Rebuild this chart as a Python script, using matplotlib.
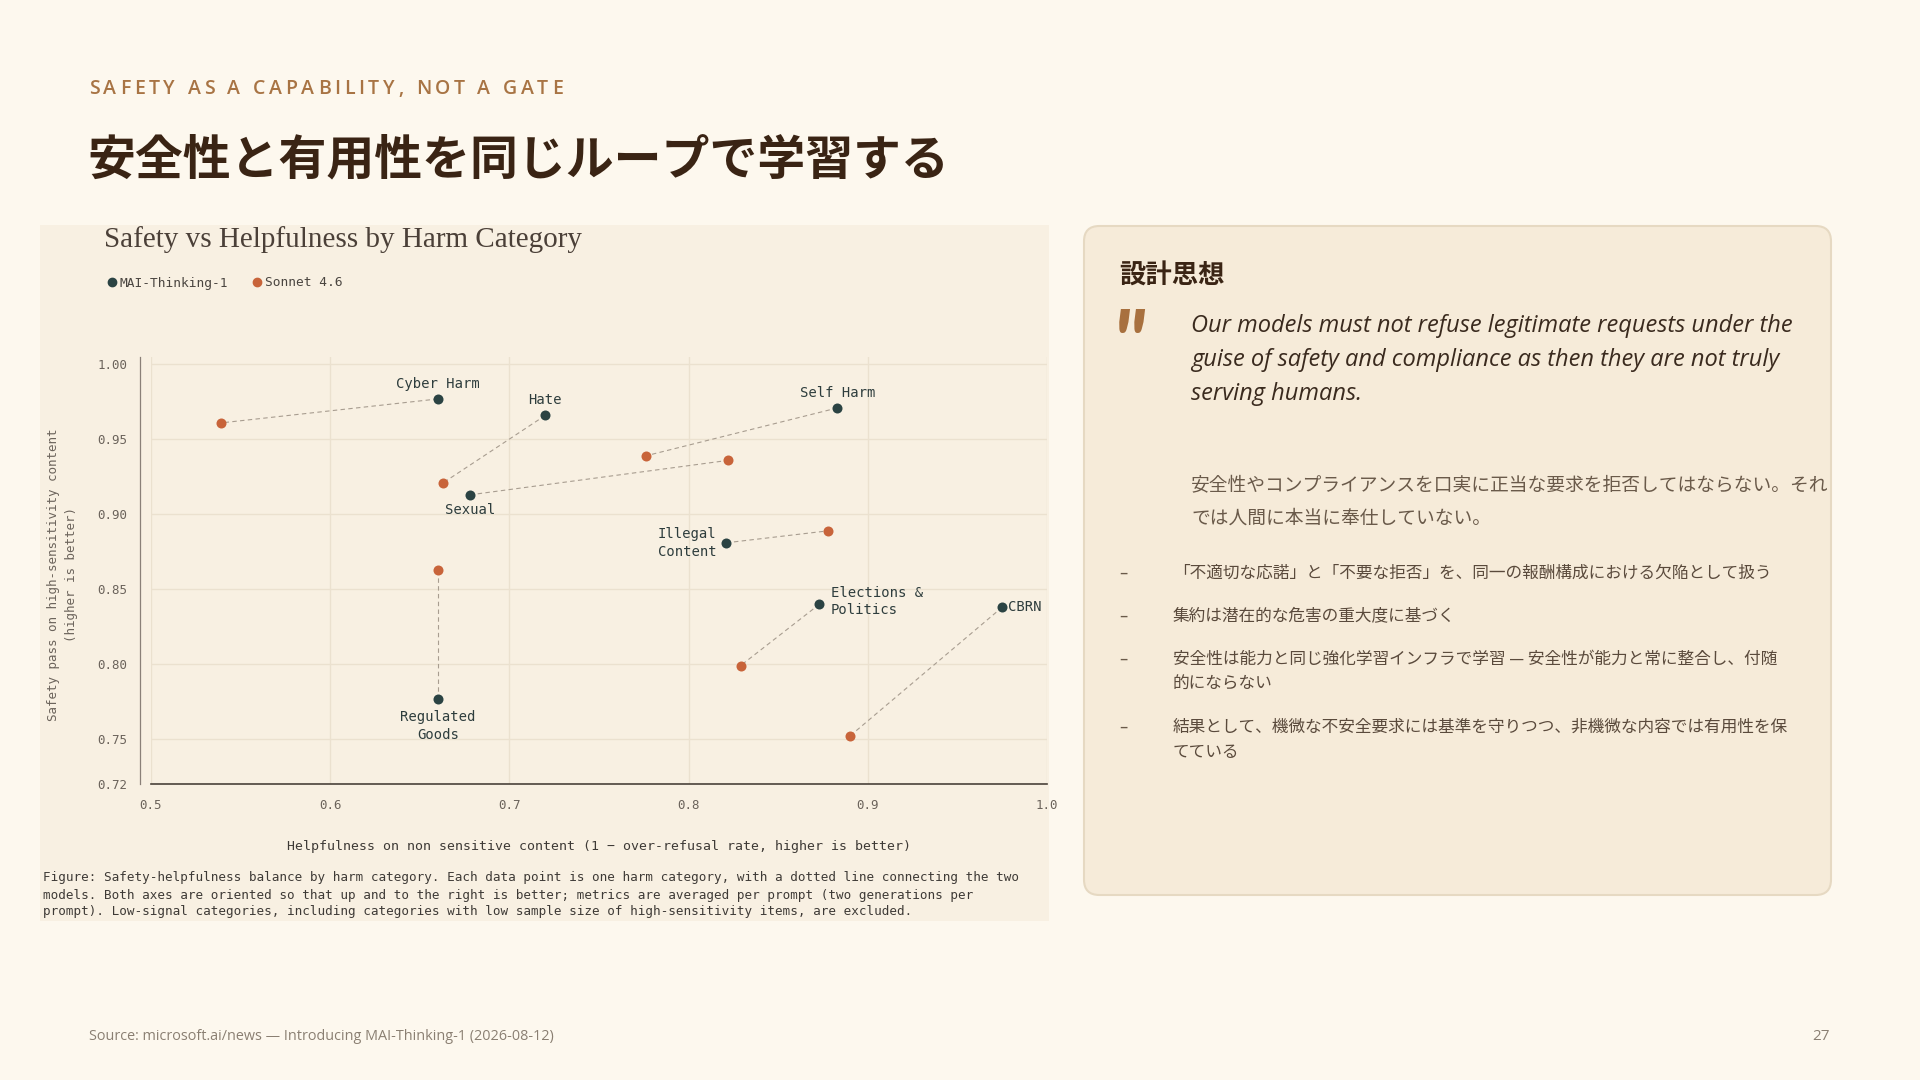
import numpy as np
import matplotlib.pyplot as plt
from matplotlib.patches import Rectangle, FancyBboxPatch
from matplotlib.lines import Line2D

# Data
categories = ["Cyber Harm", "Hate", "Self Harm", "Sexual", "Illegal\nContent",
              "Elections &\nPolitics", "CBRN", "Regulated\nGoods"]
mai_helpfulness = [0.660, 0.720, 0.883, 0.678, 0.821, 0.873, 0.975, 0.660]
mai_safety = [0.977, 0.966, 0.971, 0.913, 0.881, 0.840, 0.838, 0.777]
sonnet_helpfulness = [0.539, 0.663, 0.776, 0.822, 0.878, 0.829, 0.890, 0.660]
sonnet_safety = [0.961, 0.921, 0.939, 0.936, 0.889, 0.799, 0.752, 0.863]
series_names = ["MAI-Thinking-1", "Sonnet 4.6"]
x_ticks = [0.5, 0.6, 0.7, 0.8, 0.9, 1.0]
y_ticks = [0.72, 0.75, 0.80, 0.85, 0.90, 0.95, 1.00]

# label placement: (dx, dy) in points, ha, va
label_place = [(0, 6, "center", "bottom"), (0, 6, "center", "bottom"),
               (0, 6, "center", "bottom"), (0, -6, "center", "top"),
               (-7, 0, "right", "center"), (8, 2, "left", "center"),
               (4, 0, "left", "center"), (0, -8, "center", "top")]

quote_en = ["Our models must not refuse legitimate requests under the",
            "guise of safety and compliance as then they are not truly",
            "serving humans."]
quote_ja = ["安全性やコンプライアンスを口実に正当な要求を拒否してはならない。それ",
            "では人間に本当に奉仕していない。"]
bullets = [["「不適切な応諾」と「不要な拒否」を、同一の報酬構成における欠陥として扱う"],
           ["集約は潜在的な危害の重大度に基づく"],
           ["安全性は能力と同じ強化学習インフラで学習 — 安全性が能力と常に整合し、付随",
            "的にならない"],
           ["結果として、機微な不安全要求には基準を守りつつ、非機微な内容では有用性を保",
            "てている"]]
caption = ["Figure: Safety-helpfulness balance by harm category. Each data point is one harm category, with a dotted line connecting the two",
           "models. Both axes are oriented so that up and to the right is better; metrics are averaged per prompt (two generations per",
           "prompt). Low-signal categories, including categories with low sample size of high-sensitivity items, are excluded."]

W, H = 1920, 1080
BG = "#fdf8ee"
PANEL = "#f8f0e2"
CARD = "#f6ebd9"
DARK = "#2b4343"
ORANGE = "#c8643a"
JP = ["Noto Sans CJK JP", "DejaVu Sans"]
MONO = "DejaVu Sans Mono"

# default font is the mono one (chart texts); Japanese texts name JP explicitly
plt.rcParams['font.family'] = [MONO]

fig = plt.figure(figsize=(19.2, 10.8), dpi=100, facecolor=BG)


def fx(x):
    return x / W


def fy(y):
    return 1 - y / H


def spaced_text(x, y, s, spacing, **kw):
    # draw text char by char to get letter spacing (pixel units)
    r = fig.canvas.get_renderer()
    ref = fig.text(0, 0, "xx", **kw)
    w_xx = ref.get_window_extent(r).width
    ref.set_text("x x")
    w_space = ref.get_window_extent(r).width - w_xx
    ref.remove()
    cx = x
    for ch in s:
        if ch == " ":
            cx += w_space + spacing
            continue
        t = fig.text(fx(cx), fy(y), ch, va="center", ha="left", **kw)
        cx += t.get_window_extent(r).width + spacing


# header
spaced_text(89, 89, "SAFETY AS A CAPABILITY, NOT A GATE", 3.7,
            fontsize=14, color="#a87444", family="Open Sans", fontweight="semibold")
fig.text(fx(87), fy(160), "安全性と有用性を同じループで学習する", fontsize=34.5,
         fontweight="bold", color="#3a2414", va="center", ha="left", family=JP)

# chart panel background
fig.patches.append(Rectangle((fx(40), fy(921)), fx(1049) - fx(40), fy(225) - fy(921),
                             transform=fig.transFigure, facecolor=PANEL,
                             edgecolor="none", zorder=-2))

fig.text(fx(104), fy(240), "Safety vs Helpfulness by Harm Category",
         family="Liberation Serif", fontsize=21, color="#4b4038", va="center")

ax = fig.add_axes([fx(151), fy(784), fx(1047) - fx(151), fy(357) - fy(784)])
ax.set_zorder(1)
ax.set_facecolor("none")
ax.set_xlim(0.5, 1.0)
ax.set_ylim(0.72, 1.005)

for i in range(len(categories)):
    ax.plot([mai_helpfulness[i], sonnet_helpfulness[i]], [mai_safety[i], sonnet_safety[i]],
            linestyle=(0, (4, 3)), color="#a89d90", linewidth=0.8, zorder=2)

sc_mai = ax.scatter(mai_helpfulness, mai_safety, s=52, color=DARK, zorder=3,
                    linewidths=0, label=series_names[0])
sc_son = ax.scatter(sonnet_helpfulness, sonnet_safety, s=52, color=ORANGE, zorder=3,
                    linewidths=0, label=series_names[1])

for i, name in enumerate(categories):
    dx, dy, ha, va = label_place[i]
    ax.annotate(name, (mai_helpfulness[i], mai_safety[i]), xytext=(dx, dy),
                textcoords="offset points", ha=ha, va=va,
                multialignment="left" if ha != "center" else "center",
                family=MONO, fontsize=10, color="#2e3d3d", linespacing=1.35, zorder=4)

ax.set_xticks(x_ticks)
ax.set_xticklabels([f"{v:.1f}" for v in x_ticks])
ax.set_yticks(y_ticks)
ax.set_yticklabels([f"{v:.2f}" for v in y_ticks], va="baseline")
ax.grid(True, color="#ebe1cf", linewidth=1.0, zorder=0)
ax.set_axisbelow(True)
ax.tick_params(length=0, labelsize=9.0, labelcolor="#6b635b")
ax.tick_params(axis="x", pad=11)
ax.tick_params(axis="y", pad=9)
for side in ["top", "right"]:
    ax.spines[side].set_visible(False)
ax.spines["left"].set_position(("outward", 8))
ax.spines["left"].set_color("#8a8078")
ax.spines["left"].set_linewidth(0.9)
ax.spines["bottom"].set_color("#4a423a")
ax.spines["bottom"].set_linewidth(1.2)

ax.set_xlabel("Helpfulness on non sensitive content (1 − over-refusal rate, higher is better)",
              family=MONO, fontsize=9.5, color="#3e3a36", labelpad=20)
fig.text(fx(62), fy(575), "Safety pass on high-sensitivity content\n(higher is better)",
         rotation=90, family=MONO, fontsize=9, color="#6b635b", ha="center", va="center",
         linespacing=1.5)

leg_handles = [Line2D([], [], marker="o", linestyle="none", color=DARK, markersize=6),
               Line2D([], [], marker="o", linestyle="none", color=ORANGE, markersize=6)]
fig.legend(leg_handles, series_names, loc="center left", bbox_to_anchor=(fx(96), fy(283)),
           ncol=2, frameon=False, handlelength=0.6, handletextpad=0.3, columnspacing=2.0,
           prop={"family": MONO, "size": 9.3}, labelcolor="#4a4540")

for k, line in enumerate(caption):
    fig.text(fx(43), fy(878 + 17 * k), line, family=MONO, fontsize=9.1,
             color="#3e3a36", va="center", ha="left")

# right card
fig.patches.append(FancyBboxPatch((fx(1084), fy(895)), fx(1831) - fx(1084), fy(226) - fy(895),
                                  boxstyle="round,pad=0,rounding_size=0.008",
                                  transform=fig.transFigure, facecolor=CARD,
                                  edgecolor="#e6d9c2", linewidth=1.5, zorder=-2,
                                  mutation_aspect=W / H))
fig.text(fx(1119), fy(276), "設計思想", fontsize=19, fontweight="bold",
         color="#3a2414", va="center", ha="left", family=JP)
fig.text(fx(1112), fy(307), '"', fontsize=64, fontweight="bold", style="italic",
         color="#a8703e", va="top", ha="left", family="Lato")
for k, line in enumerate(quote_en):
    fig.text(fx(1191), fy(326 + 34 * k), line, family="Open Sans", style="italic",
             fontsize=17, color="#3a2a1e", va="center", ha="left")
for k, line in enumerate(quote_ja):
    fig.text(fx(1191), fy(486 + 32 * k), line, family=JP, fontsize=13.5,
             color="#6a5a4a", va="center", ha="left")

by = 573
for item in bullets:
    fig.text(fx(1119), fy(by), "–", family="DejaVu Sans", fontsize=12,
             color="#6a5a4a", va="center", ha="left")
    for k, line in enumerate(item):
        fig.text(fx(1173), fy(by + 25 * k), line, family=JP, fontsize=12,
                 color="#5a4a3c", va="center", ha="left")
    by += 43 + 25 * (len(item) - 1)

# footer
fig.text(fx(89), fy(1036), "Source: microsoft.ai/news — Introducing MAI-Thinking-1 (2026-08-12)",
         family=["Open Sans", "DejaVu Sans"], fontsize=10.4, color="#8a7f72", va="center", ha="left")
fig.text(fx(1830), fy(1036), "27", family="Open Sans", fontsize=11, color="#8a7f72",
         va="center", ha="right")

fig.savefig("out.png", dpi=100, facecolor=BG)
